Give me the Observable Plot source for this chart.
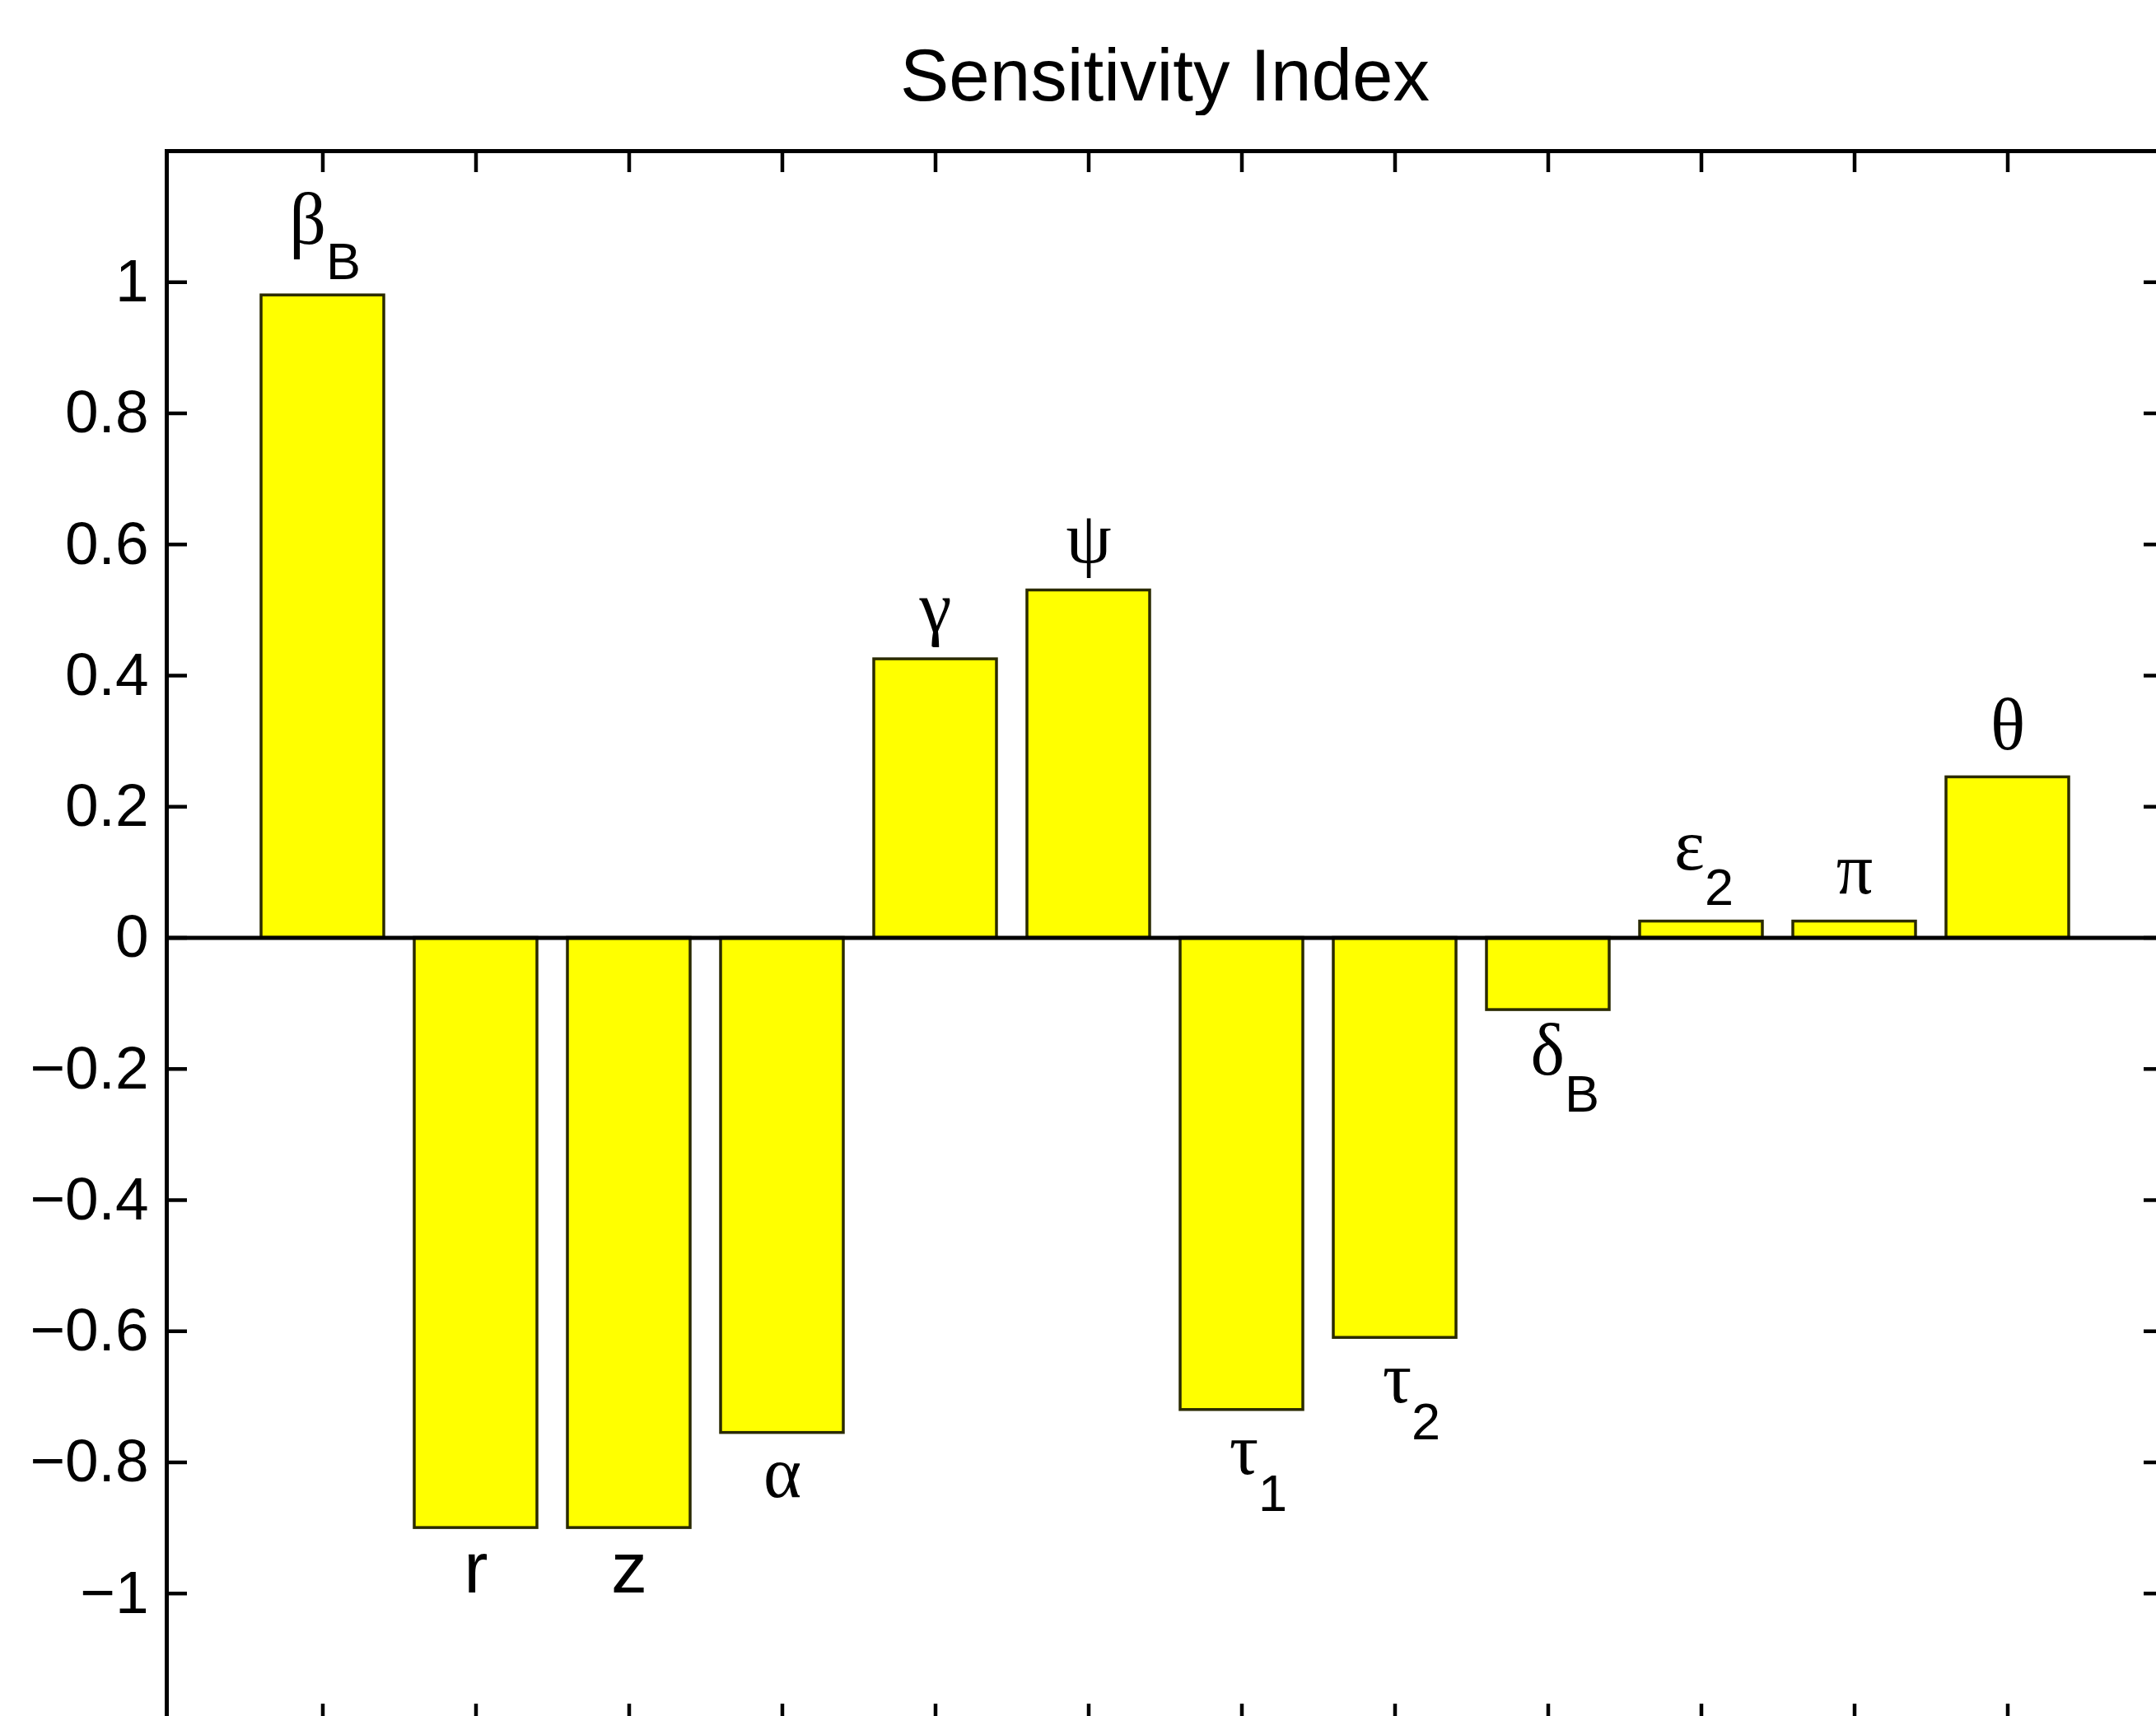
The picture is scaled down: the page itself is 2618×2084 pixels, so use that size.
<!DOCTYPE html>
<html>
<head>
<meta charset="utf-8">
<script src="https://cdn.jsdelivr.net/npm/d3@7"></script>
<script src="https://cdn.jsdelivr.net/npm/@observablehq/plot@0.6"></script>
<style>
  html, body { margin: 0; padding: 0; background: #fff; overflow: hidden; }
  #page { width: 2618px; height: 2084px; overflow: hidden; position: relative; background: #fff; }
  #title { position: absolute; left: 202px; top: 0; width: 2425px; text-align: center;
           font-family: "Liberation Sans", Arial, Helvetica, sans-serif; font-size: 89px;
           line-height: 88px; padding-top: 47px; color: #000; white-space: nowrap; }
  #chart { position: absolute; left: 0; top: 140px; width: 2647px; }
  #chart svg { max-width: none !important; }
</style>
</head>
<body>
<div id="page">
  <div id="title">Sensitivity Index</div>
  <div id="chart"></div>
</div>
<script>
// ---- data ----
const mainSymbols = ["β", "r", "z", "α", "γ", "ψ", "τ", "τ", "δ", "ε", "π", "θ"];
const subscripts  = ["B", "",  "",  "",  "",  "",  "1", "2", "B", "2", "",  ""];
const values      = [0.98, -0.90, -0.90, -0.755, 0.425, 0.53, -0.72, -0.61, -0.11, 0.025, 0.025, 0.245];
const yTickValues = [1, 0.8, 0.6, 0.4, 0.2, 0, -0.2, -0.4, -0.6, -0.8, -1];

// ---- build table ----
const keys = mainSymbols.map((m, i) => m + subscripts[i]);
const rows = keys.map((k, i) => ({ key: k, main: mainSymbols[i], sub: subscripts[i], value: values[i] }));

const serif = '"Liberation Serif", "Times New Roman", Times, serif';
const sans = '"Liberation Sans", Arial, Helvetica, sans-serif';
const isGreek = s => /[\u0370-\u03FF]/.test(s);

function mainText(data, opts) {
  const greek = data.filter(d => isGreek(d.main));
  const latin = data.filter(d => !isGreek(d.main));
  const base = { x: "key", y: "value", text: "main", lineAnchor: "bottom", fontSize: 88, fill: "black", ...opts };
  return [
    Plot.text(greek, { ...base, fontFamily: serif }),
    Plot.text(latin, { ...base, fontFamily: sans })
  ];
}
function subText(data, opts) {
  return Plot.text(data, { x: "key", y: "value", text: "sub", lineAnchor: "bottom", textAnchor: "start",
                           fontSize: 63, fontFamily: sans, fill: "black", ...opts });
}

const posSub   = rows.filter(d => d.value > 0 && d.sub);
const posPlain = rows.filter(d => d.value > 0 && !d.sub);
const negSub   = rows.filter(d => d.value < 0 && d.sub);
const negPlain = rows.filter(d => d.value < 0 && !d.sub);

const tickOpts = { tickSize: 25, strokeWidth: 4.5, stroke: "black", fill: "none", label: null };

const chart = Plot.plot({
  width: 2647,
  height: 1994,
  marginLeft: 202,
  marginRight: 20,
  marginTop: 43,
  marginBottom: 40,
  style: { fontFamily: sans, background: "white", color: "black", overflow: "visible", maxWidth: "none" },
  x: { type: "band", domain: keys, paddingInner: 0.2, paddingOuter: 0.6, align: 0.5 },
  y: { domain: [-1.2, 1.2] },
  marks: [
    Plot.barY(rows, { x: "key", y: "value", fill: "#ffff00", stroke: "#2a2a00", strokeWidth: 3.5 }),
    Plot.ruleY([0], { stroke: "black", strokeWidth: 5 }),
    // labels above positive bars / below negative bars
    ...mainText(posSub,   { textAnchor: "end",    dx: 4,  dy: -63 }),
    subText(posSub,       { dx: 4, dy: -20 }),
    ...mainText(posPlain, { textAnchor: "middle", dx: 0,  dy: -34 }),
    ...mainText(negSub,   { textAnchor: "end",    dx: 20, dy: 78 }),
    subText(negSub,       { dx: 20, dy: 123 }),
    ...mainText(negPlain, { textAnchor: "middle", dx: 0,  dy: 78 }),
    // inward ticks on all four sides
    Plot.axisX(keys, { anchor: "top",    dy: 25,  ...tickOpts }),
    Plot.axisX(keys, { anchor: "bottom", dy: -25, ...tickOpts }),
    Plot.axisY(yTickValues, { anchor: "left",  dx: 25,  ...tickOpts }),
    Plot.axisY(yTickValues, { anchor: "right", dx: -25, ...tickOpts }),
    // left tick labels
    Plot.axisY(yTickValues, { anchor: "left", tickSize: 0, tickPadding: 22, tickFormat: d3.format("~g"),
                              fontSize: 73, fontFamily: sans, fill: "black", label: null }),
    Plot.frame({ stroke: "black", strokeWidth: 5 })
  ]
});
document.getElementById("chart").appendChild(chart);
</script>
</body>
</html>
